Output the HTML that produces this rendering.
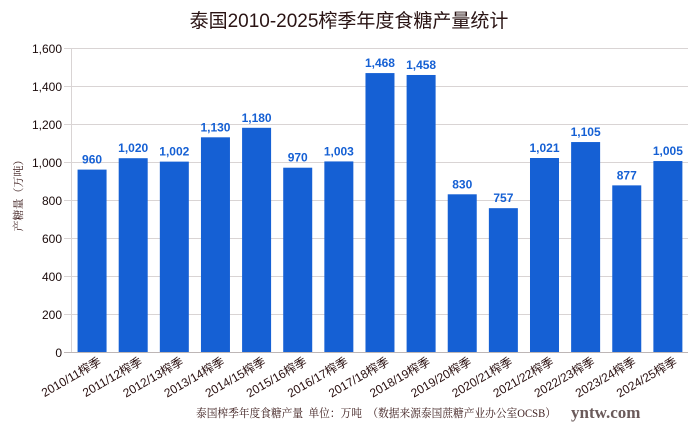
<!DOCTYPE html>
<html><head><meta charset="utf-8"><style>
html,body{margin:0;padding:0;background:#fff;}
svg{display:block;}
</style></head><body>
<svg width="700" height="435" xmlns="http://www.w3.org/2000/svg" font-family="'Liberation Sans','Noto Sans CJK SC',sans-serif">
<text x="349" y="27" text-anchor="middle" font-size="19" fill="#2a1414" font-family="'Liberation Sans','Noto Sans CJK SC',sans-serif">泰国2010-2025榨季年度食糖产量统计</text>
<text transform="translate(22,193) rotate(-90)" text-anchor="middle" font-size="11" fill="#3a1a1a" font-family="'Liberation Serif','Noto Serif CJK SC',serif">产糖量（万吨）</text>
<g stroke="#d9d4d4" stroke-width="1">
<line x1="64" y1="48.5" x2="688" y2="48.5"/>
<line x1="64" y1="86.5" x2="688" y2="86.5"/>
<line x1="64" y1="124.5" x2="688" y2="124.5"/>
<line x1="64" y1="162.5" x2="688" y2="162.5"/>
<line x1="64" y1="200.5" x2="688" y2="200.5"/>
<line x1="64" y1="238.5" x2="688" y2="238.5"/>
<line x1="64" y1="276.5" x2="688" y2="276.5"/>
<line x1="64" y1="314.5" x2="688" y2="314.5"/>
<line x1="71.5" y1="48" x2="71.5" y2="352"/>
</g>
<g font-size="12" fill="#1a0a0a" text-anchor="end">
<text x="62" y="53">1,600</text><text x="62" y="91">1,400</text><text x="62" y="129">1,200</text><text x="62" y="167">1,000</text><text x="62" y="205">800</text><text x="62" y="243">600</text><text x="62" y="281">400</text><text x="62" y="319">200</text><text x="62" y="357">0</text>
</g>
<g id="bars" fill="#1560d4"></g>
<line x1="64" y1="352.5" x2="688" y2="352.5" stroke="#bdb6b6" stroke-width="1"/>
<g id="vals" font-size="12" font-weight="bold" fill="#1560d4" text-anchor="middle"></g>
<g id="labs" font-size="12" fill="#2a1010" text-anchor="end"></g>
<text x="196" y="417" font-size="11.5" fill="#3a1a1a" textLength="360" lengthAdjust="spacingAndGlyphs" font-family="'Liberation Serif','Noto Serif CJK SC',serif">泰国榨季年度食糖产量&#160;&#160;单位：万吨&#160;&#160;（数据来源泰国蔗糖产业办公室OCSB）</text>
<text x="571" y="418" font-size="17" fill="#6a5a5a" font-family="'Liberation Serif',serif" font-weight="bold">yntw.com</text>
</svg>
<script>
var v=[960,1020,1002,1130,1180,970,1003,1468,1458,830,757,1021,1105,877,1005];
var ns="http://www.w3.org/2000/svg";
var b=document.getElementById('bars'),vl=document.getElementById('vals'),lb=document.getElementById('labs');
for(var i=0;i<v.length;i++){
 var c=71.5+41.13*(i+0.5);var h=v[i]*0.19;var y=352-h;
 var r=document.createElementNS(ns,'rect');r.setAttribute('x',c-14.5);r.setAttribute('y',y);r.setAttribute('width',29);r.setAttribute('height',h);b.appendChild(r);
 var t=document.createElementNS(ns,'text');t.setAttribute('x',c);t.setAttribute('y',y-6);t.textContent=v[i].toLocaleString('en-US');vl.appendChild(t);
 var s=(2010+i)+'/'+String(11+i).padStart(2,'0')+'榨季';
 var l=document.createElementNS(ns,'text');l.setAttribute('transform','translate('+(c+10)+',364) rotate(-30)');l.textContent=s;lb.appendChild(l);
}
</script>
</body></html>
